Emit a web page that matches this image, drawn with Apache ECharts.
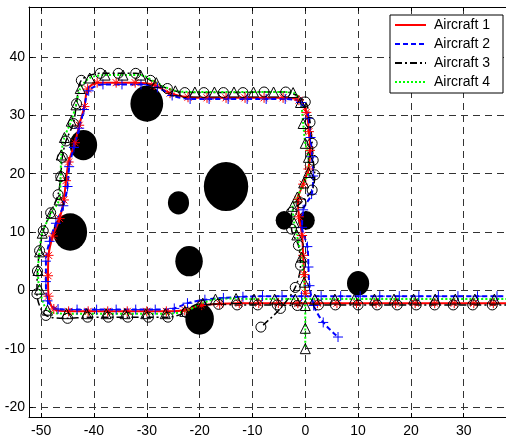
<!DOCTYPE html>
<html>
<head>
<meta charset="utf-8">
<script src="https://cdn.jsdelivr.net/npm/echarts@6/dist/echarts.min.js"></script>
<style>
    html, body { margin: 0; padding: 0; background: #fff; }
    #chart_id { width: 506px; height: 438px; }
</style>
</head>
<body>
<div id="chart_id"></div>
<script>
//obstacles (centre x, centre y, radius in data units)
var obstacleX = [-30, -42, -15, -24, -44.5, -22, -20, -4, 0.2, 10];
var obstacleY = [32, 24.9, 17.8, 15, 10, 5, -4.9, 12, 12, 1.2];
var obstacleR = [3.1, 2.6, 4.2, 2, 3.2, 2.6, 2.7, 1.6, 1.6, 2.1];

var seriesNames = ['Aircraft 1', 'Aircraft 2', 'Aircraft 3', 'Aircraft 4'];

var aircraft1 = [[39,-2.2],[35.6,-2.2],[31.9,-2.2],[28.2,-2.2],[24.5,-2.2],[20.8,-2.2],[17.1,-2.2],[13.4,-2.2],[9.7,-2.2],[6,-2.2],[2.3,-2.2],[-1.4,-2.2],[-5.1,-2.2],[-8.8,-2.2],[-12.5,-2.2],[-16.2,-2.3],[-19.6,-2.6],[-22.8,-3.4],[-26.3,-3.6],[-30,-3.6],[-33.7,-3.6],[-37.4,-3.6],[-41.1,-3.6],[-44.8,-3.6],[-47.6,-3.2],[-48.6,-1],[-48.7,2.5],[-48.6,6],[-47.8,9.3],[-46.5,12.3],[-45.7,15.5],[-45.3,18.8],[-44.8,22],[-43.6,25.3],[-42.8,28.3],[-41.8,31.5],[-41.2,34.5],[-39.4,35.6],[-35.8,35.6],[-32.2,35.6],[-28.6,35.2],[-25.6,33.8],[-22.2,33.1],[-18.6,33],[-15,33],[-11.4,33],[-7.8,33],[-4.2,33],[-1.2,32.6],[0.2,30.5],[0.7,27.2],[0.9,24],[0.6,20.8],[-0.4,18.2],[-1.4,15.6],[-1.2,12.6],[-0.6,9.4],[-0.4,6],[-0.2,2.7],[0,-0.5]];

var aircraft2 = [[39,-1],[36.3,-1],[32.6,-1],[28.9,-1],[25.2,-1],[21.5,-1],[17.8,-1],[14.1,-1],[10.4,-1],[6.7,-1],[3,-1],[-0.7,-1],[-4.4,-1],[-8.1,-1],[-11.8,-1.1],[-15.5,-1.3],[-19,-1.6],[-22.3,-2.2],[-24.8,-3.1],[-28.4,-3.3],[-32.1,-3.3],[-35.8,-3.3],[-39.5,-3.3],[-43.2,-3.3],[-46.8,-3.2],[-48.8,-1.8],[-49.1,1.5],[-49.1,5],[-48.4,8.4],[-47.2,11.5],[-45.8,14.5],[-45,17.8],[-44.7,21.2],[-43.8,24.5],[-42.8,27.8],[-41.9,31],[-41,34.2],[-38.3,35.3],[-34.7,35.3],[-31.1,35.3],[-28,34.8],[-25.2,33.4],[-21.8,32.8],[-18.2,32.8],[-14.6,32.8],[-11,32.8],[-7.4,32.8],[-3.8,32.8],[-0.8,32.2],[0.6,29.5],[1,26.2],[1.3,22.9],[1.5,19.6],[1.2,16.5],[-0.4,13.8],[-0.6,10.8],[0.4,7.5],[0.6,4],[0.8,0.8],[1.6,-2.6],[3.4,-5.5],[6.2,-8]];

var aircraft3 = [[39,-2.5],[35.4,-2.5],[31.7,-2.5],[28,-2.5],[24.5,-2.5],[21,-2.5],[17.4,-2.5],[13.6,-2.5],[10,-2.5],[5.7,-2.5],[2.5,-2.5],[-1.5,-2.6],[-5.3,-2.5],[-9,-2.5],[-12.9,-2.5],[-16.4,-2.4],[-19.6,-2.6],[-22.5,-3.8],[-26,-4.6],[-29.7,-4.6],[-33.6,-4.6],[-37.3,-4.6],[-41.2,-4.6],[-45,-4.8],[-49.1,-4.3],[-50.8,-0.6],[-50.7,3.3],[-50.3,6.8],[-49.6,10.2],[-48.2,13.3],[-46.8,16.4],[-46.3,19.5],[-46,22.8],[-45.3,25.6],[-43.9,28.6],[-43.3,32],[-42.4,36],[-38.8,37.2],[-35.4,37.2],[-32.1,37.2],[-29.3,36],[-26.1,34.6],[-22.8,33.9],[-19.2,33.9],[-15.5,33.9],[-11.8,33.9],[-7.8,34],[-3.7,34],[0,32.3],[0.9,28.8],[1.3,25.2],[1.5,22.3],[1.8,19.8],[1.3,17.2],[-0.8,15],[-2.6,13.4],[-2.6,10.5],[-1.3,7.7],[-0.9,4.3],[-1.9,0.5],[-4.7,-3.1],[-8.4,-6.3]];

var aircraft4 = [[39,-1.5],[35.8,-1.5],[32.1,-1.5],[28.4,-1.5],[24.6,-1.5],[20.5,-1.5],[16.8,-1.5],[13.1,-1.5],[9.3,-1.5],[5.6,-1.5],[1.8,-1.5],[-1.9,-1.5],[-5.8,-1.5],[-9.7,-1.5],[-13.1,-1.4],[-17,-1.5],[-19.4,-2.2],[-22.8,-3.6],[-26.5,-4],[-30.2,-4],[-34.1,-4],[-37.7,-4],[-41.4,-4],[-45.2,-4],[-48.8,-3.4],[-50.3,0.2],[-50.6,3.4],[-50.3,6.6],[-49.8,9.8],[-48.1,13.2],[-46.6,15.5],[-46.3,19.7],[-46.2,23.2],[-45.6,26.2],[-44.3,29],[-43.4,31.8],[-42.6,34.6],[-40.8,36.4],[-37.9,36.9],[-34.5,36.9],[-31.2,36.9],[-28.2,35.6],[-24.6,34.2],[-20.9,34],[-17.2,34],[-13.5,34],[-9.8,34],[-6,34],[-2.3,33.9],[-0.9,32.2],[-0.4,28.6],[0,25.2],[0.6,22.8],[0.6,20.2],[-0.3,18.4],[-1.5,16],[-2.4,14.4],[-2.1,11.6],[-1.6,9.5],[-0.7,5.7],[-0.2,1.4],[0,-2.6],[0,-6.5],[0,-10]];

window.onload = function () {
    initChart();
};

function renderObstacle(params, api) {
    var center = api.coord([api.value(0), api.value(1)]);
    var size = api.size([api.value(2), api.value(2)]);
    return {
        type: 'circle',
        x: center[0],
        y: center[1],
        scaleY: size[1] / size[0],
        shape: {cx: 0, cy: 0, r: size[0]},
        style: {fill: '#000'}
    };
}

function lineSeries(name, data, color, type, width) {
    return {
        name: name,
        type: 'line',
        data: data,
        symbol: 'none',
        smooth: 0.3,
        z: 3,
        itemStyle: {color: color},
        lineStyle: {color: color, type: type, width: width}
    };
}

function markerSeries(data, symbol, size, color) {
    return {
        type: 'scatter',
        data: data,
        symbol: symbol,
        symbolSize: size,
        z: 4,
        silent: true,
        itemStyle: {color: 'transparent', borderColor: color, borderWidth: 1, opacity: 1}
    };
}

function initChart() {
    var myChart = echarts.init(document.getElementById('chart_id'));
    var obstacles = [];
    for (var i = 0, lens = obstacleX.length; i < lens; i++) {
        obstacles[i] = [obstacleX[i], obstacleY[i], obstacleR[i]];
    }
    var font = 'Liberation Sans, Arial, sans-serif';
    var gridLine = {show: true, lineStyle: {color: '#333', type: [7, 5], width: 1}};
    var option = {
        animation: false,
        backgroundColor: '#fff',
        grid: {left: 29, right: -6.5, top: 7, bottom: 21},
        legend: {
            data: seriesNames,
            orient: 'vertical',
            left: 390,
            top: 15,
            backgroundColor: '#fff',
            borderColor: '#000',
            borderWidth: 1,
            borderRadius: 0,
            padding: [3, 13, 4, 4],
            itemWidth: 31,
            itemHeight: 14,
            itemGap: 5,
            z: 10,
            itemStyle: {opacity: 0, color: 'transparent', borderWidth: 0},
            textStyle: {fontFamily: font, fontSize: 14, color: '#000', padding: [0, 0, 0, 3]}
        },
        xAxis: [{
            type: 'value',
            min: -52.3,
            max: 38,
            splitNumber: 9,
            minInterval: 10,
            maxInterval: 10,
            axisLine: {show: true, onZero: false, lineStyle: {color: '#000', width: 1}},
            axisTick: {show: true, inside: true, length: 4, lineStyle: {color: '#000'}},
            axisLabel: {showMinLabel: false, showMaxLabel: false, margin: 7, color: '#000', fontSize: 14, fontFamily: font},
            splitLine: gridLine
        }, {
            type: 'value',
            position: 'top',
            min: -52.3,
            max: 38,
            splitNumber: 9,
            minInterval: 10,
            maxInterval: 10,
            axisLine: {show: true, onZero: false, lineStyle: {color: '#000', width: 1}},
            axisTick: {show: true, inside: true, length: 4, lineStyle: {color: '#000'}},
            axisLabel: {show: false},
            splitLine: {show: false}
        }],
        yAxis: {
            type: 'value',
            min: -21.71,
            max: 48.57,
            splitNumber: 7,
            minInterval: 10,
            maxInterval: 10,
            axisLine: {show: true, onZero: false, lineStyle: {color: '#000', width: 1}},
            axisTick: {show: true, inside: true, length: 4, lineStyle: {color: '#000'}},
            axisLabel: {showMinLabel: false, showMaxLabel: false, margin: 4, color: '#000', fontSize: 14, fontFamily: font},
            splitLine: gridLine
        },
        series: [
            {
                type: 'custom',
                renderItem: renderObstacle,
                data: obstacles,
                encode: {x: 0, y: 1},
                z: 2,
                silent: true
            },
            lineSeries(seriesNames[0], aircraft1, '#ff0000', 'solid', 2),
            lineSeries(seriesNames[1], aircraft2, '#0000ff', [5, 3], 2),
            lineSeries(seriesNames[2], aircraft3, '#000000', [7, 3, 2, 3], 1.5),
            lineSeries(seriesNames[3], aircraft4, '#00ff00', [2, 2], 2),
            markerSeries(aircraft1, 'path://M5,0L5,10M0,5L10,5M1.5,1.5L8.5,8.5M1.5,8.5L8.5,1.5', 10, '#ff0000'),
            markerSeries(aircraft2, 'path://M5,0L5,10M0,5L10,5', 10, '#0000ff'),
            markerSeries(aircraft3, 'circle', 10, '#000000'),
            markerSeries(aircraft4, 'triangle', 10, '#000000')
        ]
    };
    myChart.setOption(option, true);
}
</script>
</body>
</html>
